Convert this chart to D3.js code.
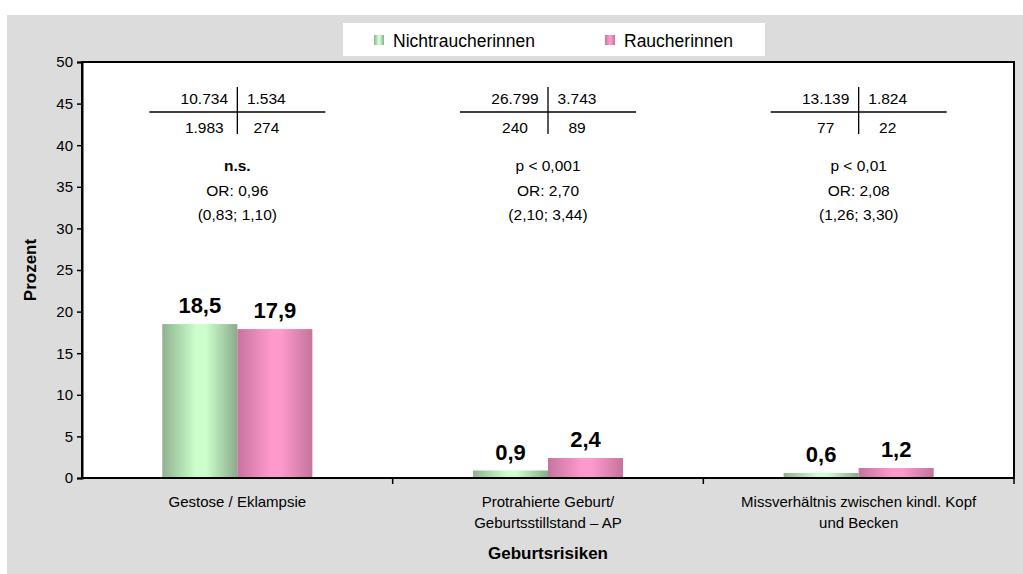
<!DOCTYPE html>
<html>
<head>
<meta charset="utf-8">
<script src="https://cdn.jsdelivr.net/npm/d3@7"></script>
<style>
  html, body { margin: 0; padding: 0; background: #ffffff; }
  svg { display: block; font-family: "Liberation Sans", Arial, Helvetica, sans-serif; }
</style>
</head>
<body>
<svg id="chart" width="1023" height="574"></svg>
<script>
// Categories (two-line labels) and series
const categories = ["Gestose / Eklampsie", "Protrahierte Geburt/\nGeburtsstillstand – AP", "Missverhältnis zwischen kindl. Kopf\nund Becken"];
const seriesNames = ["Nichtraucherinnen", "Raucherinnen"];
const nonSmokers = [18.5, 0.9, 0.6];
const smokers = [17.9, 2.4, 1.2];
const yTicks = [0, 5, 10, 15, 20, 25, 30, 35, 40, 45, 50];

// Four-field tables per category: [left, right] for top and bottom rows
const tableTop = [["10.734", "1.534"], ["26.799", "3.743"], ["13.139", "1.824"]];
const tableBottom = [["1.983", "274"], ["240", "89"], ["77", "22"]];
const significance = ["n.s.", "p < 0,001", "p < 0,01"];
const oddsRatios = ["OR: 0,96", "OR: 2,70", "OR: 2,08"];
const confIntervals = ["(0,83; 1,10)", "(2,10; 3,44)", "(1,26; 3,30)"];

const svg = d3.select("#chart");
const W = 1023, H = 574;
const plot = { left: 82, right: 1014, top: 62, bottom: 478 };

// Grey chart background
svg.append("rect").attr("x", 7).attr("y", 15).attr("width", W - 7).attr("height", H - 15).attr("fill", "#dcdcdc");

// Gradients for cylinder-like bars
const defs = svg.append("defs");
function gradient(id, edgeL, mid, edgeR) {
  const g = defs.append("linearGradient").attr("id", id).attr("x1", "0%").attr("x2", "100%").attr("y1", "0%").attr("y2", "0%");
  g.append("stop").attr("offset", "0%").attr("stop-color", edgeL);
  g.append("stop").attr("offset", "45%").attr("stop-color", mid);
  g.append("stop").attr("offset", "58%").attr("stop-color", mid);
  g.append("stop").attr("offset", "100%").attr("stop-color", edgeR);
}
gradient("gGreen", "#8fb28f", "#ccffcc", "#8aab8a");
gradient("gPink", "#c7739f", "#ff99cc", "#c4749c");
const fills = ["url(#gGreen)", "url(#gPink)"];

// Plot area
svg.append("rect").attr("x", plot.left).attr("y", plot.top)
  .attr("width", plot.right - plot.left).attr("height", plot.bottom - plot.top)
  .attr("fill", "#ffffff");

const x0 = d3.scaleBand().domain(d3.range(categories.length)).range([plot.left, plot.right]).padding(0);
const x1 = d3.scaleBand().domain(seriesNames).range([0, x0.bandwidth()]).paddingInner(0).paddingOuter(1.07);
const y = d3.scaleLinear().domain([0, 50]).range([plot.bottom, plot.top]);

// Bars with value labels
const values = [nonSmokers, smokers];
const groups = svg.append("g");
seriesNames.forEach((s, si) => {
  groups.selectAll(null).data(values[si]).enter().append("rect")
    .attr("x", (d, i) => x0(i) + x1(s))
    .attr("y", d => y(d))
    .attr("width", x1.bandwidth())
    .attr("height", d => y(0) - y(d))
    .attr("fill", fills[si]);
  groups.selectAll(null).data(values[si]).enter().append("text")
    .attr("x", (d, i) => x0(i) + x1(s) + x1.bandwidth() / 2)
    .attr("y", d => y(d) - 11)
    .attr("text-anchor", "middle")
    .attr("font-size", 22).attr("font-weight", "bold").attr("fill", "#000")
    .text(d => String(d).replace(".", ","));
});

// Plot frame
svg.append("rect").attr("x", plot.left).attr("y", plot.top)
  .attr("width", plot.right - plot.left).attr("height", plot.bottom - plot.top)
  .attr("fill", "none").attr("stroke", "#000").attr("stroke-width", 2);

// Y axis
const yAxis = d3.axisLeft(y).tickValues(yTicks).tickSize(5).tickPadding(4).tickFormat(d => d);
const gy = svg.append("g").attr("transform", `translate(${plot.left},0)`).call(yAxis);
gy.select(".domain").attr("stroke-width", 2);
gy.selectAll(".tick line").attr("stroke-width", 1.5);
gy.selectAll("text").attr("font-size", 15).attr("font-family", "Liberation Sans, Arial, sans-serif").attr("fill", "#000");

// X axis: ticks on category boundaries
const bounds = d3.range(1, categories.length + 1).map(i => i < categories.length ? x0(i) : plot.right);
svg.append("g").selectAll("line").data(bounds).enter().append("line")
  .attr("x1", d => d).attr("x2", d => d).attr("y1", plot.bottom).attr("y2", plot.bottom + 6)
  .attr("stroke", "#000").attr("stroke-width", 1.5);

// Category labels
categories.forEach((c, i) => {
  const t = svg.append("text").attr("text-anchor", "middle").attr("font-size", 15).attr("fill", "#000");
  c.split("\n").forEach((line, li) => {
    t.append("tspan").attr("x", x0(i) + x0.bandwidth() / 2).attr("y", 507 + li * 21).text(line);
  });
});

// Axis titles
svg.append("text").attr("x", x0(1) + x0.bandwidth() / 2).attr("y", 559)
  .attr("text-anchor", "middle").attr("font-size", 17).attr("font-weight", "bold").text("Geburtsrisiken");
svg.append("text").attr("transform", "translate(36,270) rotate(-90)")
  .attr("text-anchor", "middle").attr("font-size", 17).attr("font-weight", "bold").text("Prozent");

// Four-field tables and test results above each group
categories.forEach((c, i) => {
  const cx = x0(i) + x0.bandwidth() / 2;
  const g = svg.append("g");
  g.append("line").attr("x1", cx - 88).attr("x2", cx + 88).attr("y1", 112).attr("y2", 112).attr("stroke", "#000").attr("stroke-width", 1.3);
  g.append("line").attr("x1", cx).attr("x2", cx).attr("y1", 87).attr("y2", 134).attr("stroke", "#000").attr("stroke-width", 1.3);
  const cell = (txt, dx, yy) => g.append("text").attr("x", cx + dx).attr("y", yy)
    .attr("text-anchor", "middle").attr("font-size", 15.5).text(txt);
  cell(tableTop[i][0], -33, 104);
  cell(tableTop[i][1], 29, 104);
  cell(tableBottom[i][0], -33, 133);
  cell(tableBottom[i][1], 29, 133);
  g.append("text").attr("x", cx).attr("y", 171).attr("text-anchor", "middle").attr("font-size", 15.5)
    .attr("font-weight", i === 0 ? "bold" : "normal").text(significance[i]);
  g.append("text").attr("x", cx).attr("y", 196).attr("text-anchor", "middle").attr("font-size", 15.5).text(oddsRatios[i]);
  g.append("text").attr("x", cx).attr("y", 220).attr("text-anchor", "middle").attr("font-size", 15.5).text(confIntervals[i]);
});

// Legend
const legend = svg.append("g");
legend.append("rect").attr("x", 343).attr("y", 23).attr("width", 422).attr("height", 33).attr("fill", "#ffffff");
const legendX = [374, 605];
seriesNames.forEach((s, si) => {
  legend.append("rect").attr("x", legendX[si]).attr("y", 35).attr("width", 10).attr("height", 10).attr("fill", fills[si]);
  legend.append("text").attr("x", legendX[si] + 19).attr("y", 47).attr("font-size", 17.5).text(s);
});
</script>
</body>
</html>
